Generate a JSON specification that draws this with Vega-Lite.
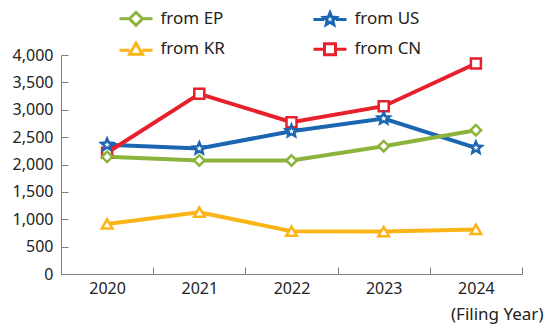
{
  "$schema": "https://vega.github.io/schema/vega-lite/v6.json",
  "autosize": "none",
  "width": 461,
  "height": 219,
  "padding": {"left": 61, "top": 55, "right": 27, "bottom": 54},
  "background": "white",
  "config": {
    "font": "Noto Sans",
    "view": {"stroke": null}
  },
  "data": {
    "values": [
      {"year": "2020", "series": "from US", "value": 2360},
      {"year": "2021", "series": "from US", "value": 2292},
      {"year": "2022", "series": "from US", "value": 2608},
      {"year": "2023", "series": "from US", "value": 2840},
      {"year": "2024", "series": "from US", "value": 2305},
      {"year": "2020", "series": "from CN", "value": 2214},
      {"year": "2021", "series": "from CN", "value": 3291},
      {"year": "2022", "series": "from CN", "value": 2773},
      {"year": "2023", "series": "from CN", "value": 3065},
      {"year": "2024", "series": "from CN", "value": 3845},
      {"year": "2020", "series": "from KR", "value": 915},
      {"year": "2021", "series": "from KR", "value": 1129},
      {"year": "2022", "series": "from KR", "value": 782},
      {"year": "2023", "series": "from KR", "value": 775},
      {"year": "2024", "series": "from KR", "value": 815},
      {"year": "2020", "series": "from EP", "value": 2140},
      {"year": "2021", "series": "from EP", "value": 2075},
      {"year": "2022", "series": "from EP", "value": 2073},
      {"year": "2023", "series": "from EP", "value": 2334},
      {"year": "2024", "series": "from EP", "value": 2627}
    ]
  },
  "encoding": {
    "x": {
      "field": "year", "type": "ordinal",
      "scale": {"type": "band", "paddingInner": 0, "paddingOuter": 0},
      "axis": {
        "title": "(Filing Year)",
        "titleX": 482, "titleY": 40, "titleAlign": "right", "titleBaseline": "middle", "titleAnchor": null,
        "titleFontSize": 17, "titleFontWeight": "normal", "titleColor": "#222222",
        "labelAngle": 0, "labelFontSize": 16, "labelColor": "#222222", "labelPadding": 13,
        "tickBand": "extent", "tickSize": -7, "tickColor": "#808080", "tickWidth": 1,
        "domainColor": "#808080", "domainWidth": 1, "grid": false
      }
    },
    "y": {
      "field": "value", "type": "quantitative",
      "scale": {"domain": [0, 4000], "nice": false},
      "axis": {
        "title": null, "values": [0, 500, 1000, 1500, 2000, 2500, 3000, 3500, 4000],
        "format": ",d", "labelFontSize": 16, "labelColor": "#222222", "labelPadding": 15,
        "tickSize": -7, "tickColor": "#808080", "tickWidth": 1,
        "grid": false, "domainColor": "#808080", "domainWidth": 1
      }
    },
    "stroke": {
      "field": "series", "type": "nominal",
      "scale": {
        "domain": ["from EP", "from US", "from KR", "from CN"],
        "range": ["#8CB43C", "#1A66B0", "#FBB418", "#E6212B"]
      },
      "legend": {
        "title": null, "orient": "none", "legendX": 63.5, "legendY": -47.7,
        "direction": "horizontal", "columns": 2, "columnPadding": 82, "rowPadding": 5.4,
        "padding": 0, "symbolSize": 400, "symbolStrokeWidth": 3, "symbolFillColor": "white",
        "labelFontSize": 17, "labelColor": "#222222", "labelOffset": 13,
        "encode": {
          "symbols": {
            "update": {
              "fill": {"value": "white"},
              "shape": {"signal": "datum.value === 'from EP' ? 'M-1.65,0L-0.65,0M0.65,0L1.65,0M0,-0.65L0.65,0L0,0.65L-0.65,0Z' : datum.value === 'from US' ? 'M-1.65,0L-0.6,0M0.6,0L1.65,0M0,-0.65L0.172,-0.236L0.618,-0.2L0.278,0.09L0.382,0.526L0,0.292L-0.382,0.526L-0.278,0.09L-0.618,-0.2L-0.172,-0.236Z' : datum.value === 'from KR' ? 'M-1.65,0.1L-0.62,0.1M0.62,0.1L1.65,0.1M0,-0.6L0.65,0.5L-0.65,0.5Z' : 'M-1.65,0L-0.55,0M0.55,0L1.65,0M-0.55,-0.55L0.55,-0.55L0.55,0.55L-0.55,0.55Z'"}
            }
          }
        }
      }
    }
  },
  "layer": [
    {
      "mark": {"type": "line", "strokeWidth": 4}
    },
    {
      "transform": [{"filter": "datum.series === 'from CN'"}],
      "mark": {"type": "point", "shape": "square", "filled": false, "fill": "white", "fillOpacity": 1, "opacity": 1, "strokeWidth": 2.5, "size": 100}
    },
    {
      "transform": [{"filter": "datum.series === 'from EP'"}],
      "mark": {"type": "point", "shape": "diamond", "filled": false, "fill": "white", "fillOpacity": 1, "opacity": 1, "strokeWidth": 2.5, "size": 110}
    },
    {
      "transform": [{"filter": "datum.series === 'from KR'"}],
      "mark": {"type": "point", "shape": "triangle-up", "filled": false, "fill": "white", "fillOpacity": 1, "opacity": 1, "strokeWidth": 2.5, "size": 115}
    },
    {
      "transform": [{"filter": "datum.series === 'from US'"}],
      "mark": {"type": "point", "shape": "M0,-1L0.265,-0.364L0.951,-0.309L0.428,0.139L0.588,0.809L0,0.45L-0.588,0.809L-0.428,0.139L-0.951,-0.309L-0.265,-0.364Z", "filled": false, "fill": "white", "fillOpacity": 1, "opacity": 1, "strokeWidth": 2.5, "size": 150}
    }
  ]
}
